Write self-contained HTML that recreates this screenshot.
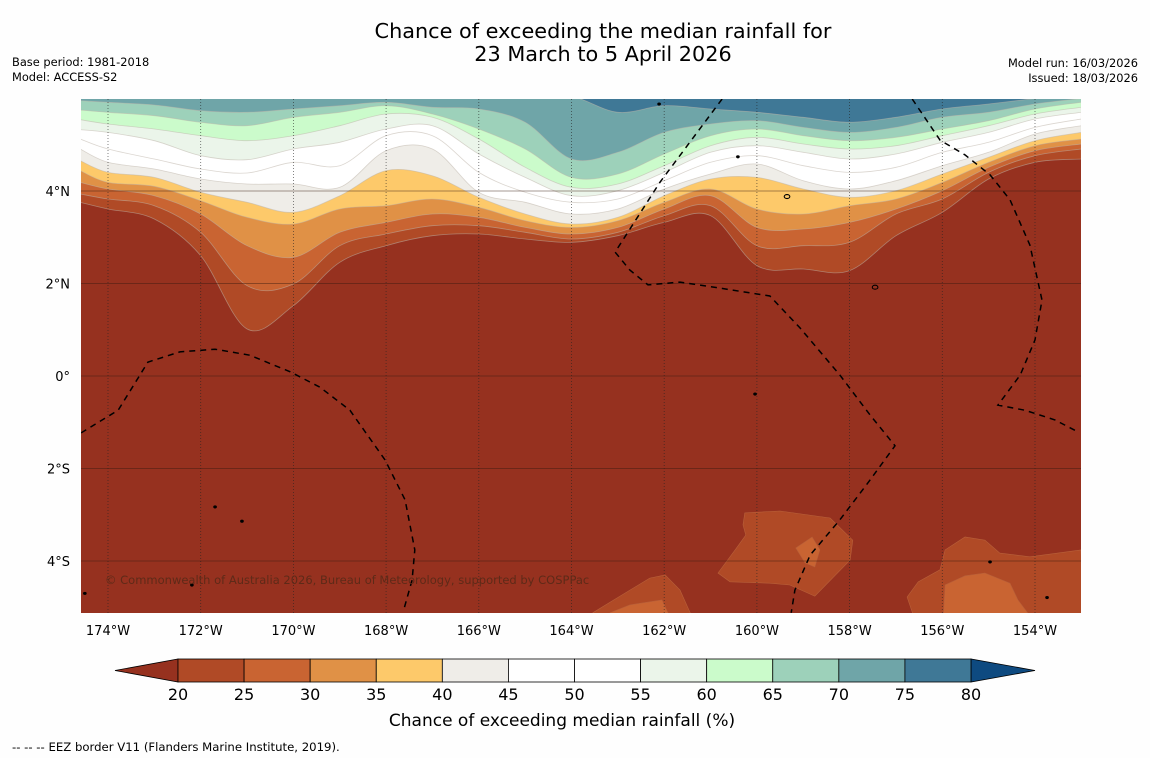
<!DOCTYPE html>
<html><head><meta charset="utf-8"><style>
html,body{margin:0;padding:0;background:#fff;}
svg{display:block;font-family:"DejaVu Sans","Liberation Sans",sans-serif;}
</style></head><body>
<svg id="svg" width="1150" height="758" viewBox="0 0 1150 758" xmlns="http://www.w3.org/2000/svg">
<rect width="1150" height="758" fill="#fefefe"/>
<text x="603" y="38" font-size="20.8" text-anchor="middle">Chance of exceeding the median rainfall for</text>
<text x="603" y="61" font-size="20.8" text-anchor="middle">23 March to 5 April 2026</text>
<text x="12" y="66" font-size="11.4">Base period: 1981-2018</text>
<text x="12" y="81" font-size="11.4">Model: ACCESS-S2</text>
<text x="1138" y="67" font-size="11.4" text-anchor="end">Model run: 16/03/2026</text>
<text x="1138" y="82" font-size="11.4" text-anchor="end">Issued: 18/03/2026</text>
<defs><clipPath id="mapclip"><rect x="81" y="99" width="1000" height="514"/></clipPath></defs>
<g id="map" clip-path="url(#mapclip)"></g>
<g id="ticks"></g>
<g id="cbar"></g>
<text x="562" y="726" font-size="17" text-anchor="middle">Chance of exceeding median rainfall (%)</text>
<text x="12" y="751" font-size="11.7">--  --  -- EEZ border V11 (Flanders Marine Institute, 2019).</text>
</svg>
<script>
const lons=[-174.6,-174,-173,-172,-171,-170,-169,-168,-167,-166,-165,-164,-163,-162,-161,-160,-159,-158,-157,-156,-155,-154,-153];
const levels=[20,25,30,35,40,45,50,55,60,65,70,75];
const levelColors=["#b04a26","#c96432","#e09146","#fdc96a","#efede8","#ffffff","#ffffff","#ebf5ea","#cbfbcb","#9dd1ba","#6fa5a8","#3f7896"];
const lat20=[3.755,3.611,3.395,2.602,1.016,1.521,2.458,2.818,3.034,3.070,2.962,2.890,3.034,3.322,3.467,2.386,2.314,2.278,3.034,3.539,4.259,4.620,4.692];
const lat25=[3.935,3.827,3.683,3.106,1.953,1.989,2.818,3.070,3.250,3.250,3.106,2.962,3.106,3.467,3.683,2.818,2.818,2.890,3.503,3.827,4.403,4.764,4.908];
const lat30=[4.187,4.043,3.899,3.503,2.818,2.566,3.106,3.322,3.503,3.431,3.214,3.070,3.214,3.611,3.899,3.214,3.178,3.322,3.611,4.007,4.512,4.872,5.016];
const lat35=[4.440,4.187,4.101,3.791,3.431,3.286,3.611,3.683,3.827,3.647,3.359,3.214,3.359,3.755,4.043,3.611,3.503,3.683,3.827,4.187,4.620,4.980,5.124];
const lat40=[4.656,4.403,4.295,3.971,3.755,3.539,3.899,4.440,4.331,3.863,3.503,3.286,3.431,3.899,4.259,4.295,4.043,3.863,4.007,4.367,4.728,5.088,5.268];
const lat45=[4.908,4.620,4.476,4.259,4.151,4.151,4.079,4.872,4.908,3.971,3.755,3.503,3.611,4.043,4.367,4.584,4.223,4.043,4.223,4.548,4.836,5.232,5.412];
const lat50=[5.124,4.908,4.692,4.476,4.389,4.620,4.548,5.196,5.196,4.403,3.971,3.755,3.827,4.223,4.620,4.764,4.548,4.403,4.512,4.836,5.052,5.376,5.557];
const lat55=[5.326,5.268,5.088,4.764,4.677,4.908,5.052,5.340,5.412,4.800,4.295,3.899,4.007,4.403,4.836,4.980,4.836,4.692,4.800,5.052,5.268,5.557,5.701];
const lat60=[5.542,5.448,5.340,5.196,5.088,5.196,5.412,5.665,5.593,5.124,4.512,4.079,4.151,4.548,4.980,5.160,5.016,4.908,4.980,5.196,5.412,5.665,5.809];
const lat65=[5.751,5.701,5.629,5.485,5.412,5.593,5.701,5.845,5.665,5.340,4.908,4.295,4.367,4.800,5.196,5.340,5.196,5.088,5.160,5.340,5.521,5.773,5.917];
const lat70=[5.953,5.917,5.859,5.737,5.701,5.773,5.845,5.917,5.809,5.773,5.485,4.692,4.836,5.268,5.448,5.521,5.376,5.268,5.376,5.593,5.701,5.881,6.0];
const lat75=[6.1,6.1,6.1,6.1,6.1,6.1,6.1,6.1,6.1,6.1,6.1,6.05,5.701,5.845,5.773,5.701,5.593,5.485,5.593,5.773,5.881,6.0,6.1];
const boundaries=[lat20,lat25,lat30,lat35,lat40,lat45,lat50,lat55,lat60,lat65,lat70,lat75];
const blobLevel=[20,25,20,25,20,25];
const blobALon=[-160.26,-159.50,-158.42,-157.93,-157.99,-158.75,-159.29,-159.72,-160.58,-160.84,-160.47,-160.24,-160.30];
const blobALat=[-2.96,-2.92,-3.07,-3.55,-3.98,-4.76,-4.52,-4.48,-4.45,-4.26,-3.76,-3.44,-3.22];
const blobAiLon=[-159.16,-158.81,-158.64,-158.75,-158.96];
const blobAiLat=[-3.72,-3.48,-3.76,-4.13,-4.04];
const blobBLon=[-163.54,-163.17,-162.31,-161.98,-161.66,-161.44,-161.40,-163.6];
const blobBLat=[-5.12,-4.89,-4.37,-4.30,-4.63,-5.12,-5.4,-5.4];
const blobBiLon=[-163.17,-162.74,-162.05,-161.92,-161.9,-163.2];
const blobBiLat=[-5.12,-4.95,-4.84,-5.12,-5.4,-5.4];
const blobCLon=[-156.76,-156.52,-156.05,-155.94,-155.51,-155.08,-154.76,-154.11,-153.01,-152.92,-156.59];
const blobCLat=[-4.78,-4.45,-4.19,-3.76,-3.48,-3.55,-3.83,-3.91,-3.76,-5.28,-5.28];
const blobCiLon=[-155.98,-155.94,-155.51,-155.08,-154.54,-154.37,-154.04];
const blobCiLat=[-5.28,-4.52,-4.32,-4.26,-4.48,-4.84,-5.28];
const eez1Lon=[-174.58,-173.78,-173.14,-172.45,-171.69,-170.94,-170.07,-169.43,-168.78,-168.02,-167.59,-167.38,-167.44,-167.61];
const eez1Lat=[-1.23,-0.74,0.30,0.52,0.58,0.45,0.09,-0.24,-0.74,-1.82,-2.68,-3.76,-4.41,-5.02];
const eez2Lon=[-160.75,-162.09,-163.06,-162.74,-162.35,-161.66,-160.80,-159.72,-159.07,-158.21,-157.56,-157.02,-157.56,-158.21,-158.85,-159.18,-159.26];
const eez2Lat=[5.99,4.19,2.68,2.29,1.97,2.03,1.90,1.73,1.04,0.02,-0.84,-1.51,-2.25,-3.11,-3.87,-4.63,-5.12];
const eez3Lon=[-156.65,-156.05,-155.51,-154.97,-154.54,-154.11,-153.85,-154.00,-154.32,-154.80,-154.22,-153.57,-153.07];
const eez3Lat=[5.99,5.10,4.78,4.35,3.81,2.83,1.64,0.78,0.02,-0.63,-0.74,-0.95,-1.21];
const islandLon=[-162.11,-160.41,-159.35,-157.45,-160.04,-171.69,-171.11,-172.19,-154.97,-153.74,-174.5];
const islandLat=[5.88,4.74,3.88,1.92,-0.39,-2.83,-3.14,-4.52,-4.02,-4.79,-4.7];
const lonTicks=[-174,-172,-170,-168,-166,-164,-162,-160,-158,-156,-154];
const latTicks=[4,2,0,-2,-4];
const cbarTicks=[20,25,30,35,40,45,50,55,60,65,70,75,80];

const NS="http://www.w3.org/2000/svg";
function X(lon){return 108+(lon+174)*46.35;}
function Y(lat){return 376-lat*46.25;}
function mk(tag,attrs,parent){const e=document.createElementNS(NS,tag);for(const k in attrs)e.setAttribute(k,attrs[k]);parent.appendChild(e);return e;}
function smooth(p){
  let d='M'+p[0][0].toFixed(1)+' '+p[0][1].toFixed(1);
  for(let i=0;i<p.length-1;i++){
    const p0=p[i-1]||p[i],p1=p[i],p2=p[i+1],p3=p[i+2]||p2;
    const c1=[p1[0]+(p2[0]-p0[0])/6,p1[1]+(p2[1]-p0[1])/6];
    const c2=[p2[0]-(p3[0]-p1[0])/6,p2[1]-(p3[1]-p1[1])/6];
    d+=' C'+c1[0].toFixed(1)+' '+c1[1].toFixed(1)+' '+c2[0].toFixed(1)+' '+c2[1].toFixed(1)+' '+p2[0].toFixed(1)+' '+p2[1].toFixed(1);
  }
  return d;
}
const map=document.getElementById('map');
let bg=mk('rect',{x:81,y:99,width:1000,height:514,fill:'#96311f'},map);


boundaries.forEach((lats,i)=>{
  let pts=lons.map((lo,j)=>[X(lo),Y(lats[j])]);
  let d=smooth(pts)+' L'+X(lons[lons.length-1]).toFixed(1)+' '+Y(7)+' L'+X(lons[0]).toFixed(1)+' '+Y(7)+' Z';
  let p=mk('path',{d:d,fill:levelColors[i],stroke:'rgba(190,180,170,0.55)','stroke-width':0.8},map);
  
  
});
const blobs=[[blobALon,blobALat],[blobAiLon,blobAiLat],[blobBLon,blobBLat],[blobBiLon,blobBiLat],[blobCLon,blobCLat],[blobCiLon,blobCiLat]];
blobs.forEach((b,i)=>{
  let pts=b[0].map((lo,j)=>X(lo).toFixed(1)+','+Y(b[1][j]).toFixed(1)).join(' ');
  let col=levelColors[levels.indexOf(blobLevel[i])];
  let p=mk('polygon',{points:pts,fill:col,stroke:'#b8603a','stroke-width':0.6},map);
  
  
});
lonTicks.forEach(lo=>{
  let l=mk('line',{x1:X(lo),x2:X(lo),y1:99,y2:613,stroke:'#222','stroke-opacity':0.7,'stroke-width':0.8,'stroke-dasharray':'1,2'},map);
  
  
});
latTicks.forEach(la=>{
  let l=mk('line',{x1:81,x2:1081,y1:Y(la),y2:Y(la),stroke:'#3a1a10','stroke-opacity':0.45,'stroke-width':1},map);
  
  
});
[[eez1Lon,eez1Lat],[eez2Lon,eez2Lat],[eez3Lon,eez3Lat]].forEach(e=>{
  let d=e[0].map((lo,j)=>(j?'L':'M')+X(lo).toFixed(1)+' '+Y(e[1][j]).toFixed(1)).join(' ');
  let p=mk('path',{d:d,fill:'none',stroke:'#000','stroke-width':1.5,'stroke-dasharray':'6,5'},map);
  
  
});
islandLon.forEach((lo,i)=>{
  let big=(i===2||i===3);
  let c=mk('ellipse',{cx:X(lo),cy:Y(islandLat[i]),rx:big?2.8:1.3,ry:big?2:1,fill:big?'none':'#000',stroke:'#000','stroke-width':1.1},map);
  
  
});
let cp=mk('text',{x:105,y:584,'font-size':11.5,fill:'#5e2a18'},map);
cp.textContent='© Commonwealth of Australia 2026, Bureau of Meteorology, supported by COSPPac';


const tk=document.getElementById('ticks');
lonTicks.forEach(lo=>{
  let t=mk('text',{x:X(lo),y:635,'font-size':13,'text-anchor':'middle'},tk);
  t.textContent=Math.abs(lo)+'°W';
  
  
});
latTicks.forEach(la=>{
  let t=mk('text',{x:70,y:Y(la)+5,'font-size':13,'text-anchor':'end'},tk);
  t.textContent=la===0?'0°':Math.abs(la)+'°'+(la>0?'N':'S');
  
  
});
const cb=document.getElementById('cbar');
const cx0=178,cx1=971,cy0=659,cy1=682,bw=(cx1-cx0)/levels.length;
let lt=mk('polygon',{points:`${cx0},${cy0} ${cx0},${cy1} 115,${(cy0+cy1)/2}`,fill:'#96311f',stroke:'#000','stroke-width':0.8},cb);


let rt=mk('polygon',{points:`${cx1},${cy0} ${cx1},${cy1} 1035,${(cy0+cy1)/2}`,fill:'#0e4a80',stroke:'#000','stroke-width':0.8},cb);


levels.forEach((lv,i)=>{
  let r=mk('rect',{x:cx0+i*bw,y:cy0,width:bw,height:cy1-cy0,fill:levelColors[i],stroke:'#000','stroke-width':0.8},cb);
  
  
});
cbarTicks.forEach((v,i)=>{
  let t=mk('text',{x:cx0+i*bw,y:700,'font-size':16,'text-anchor':'middle'},cb);
  t.textContent=v;
  
  
});
</script>
</body></html>
